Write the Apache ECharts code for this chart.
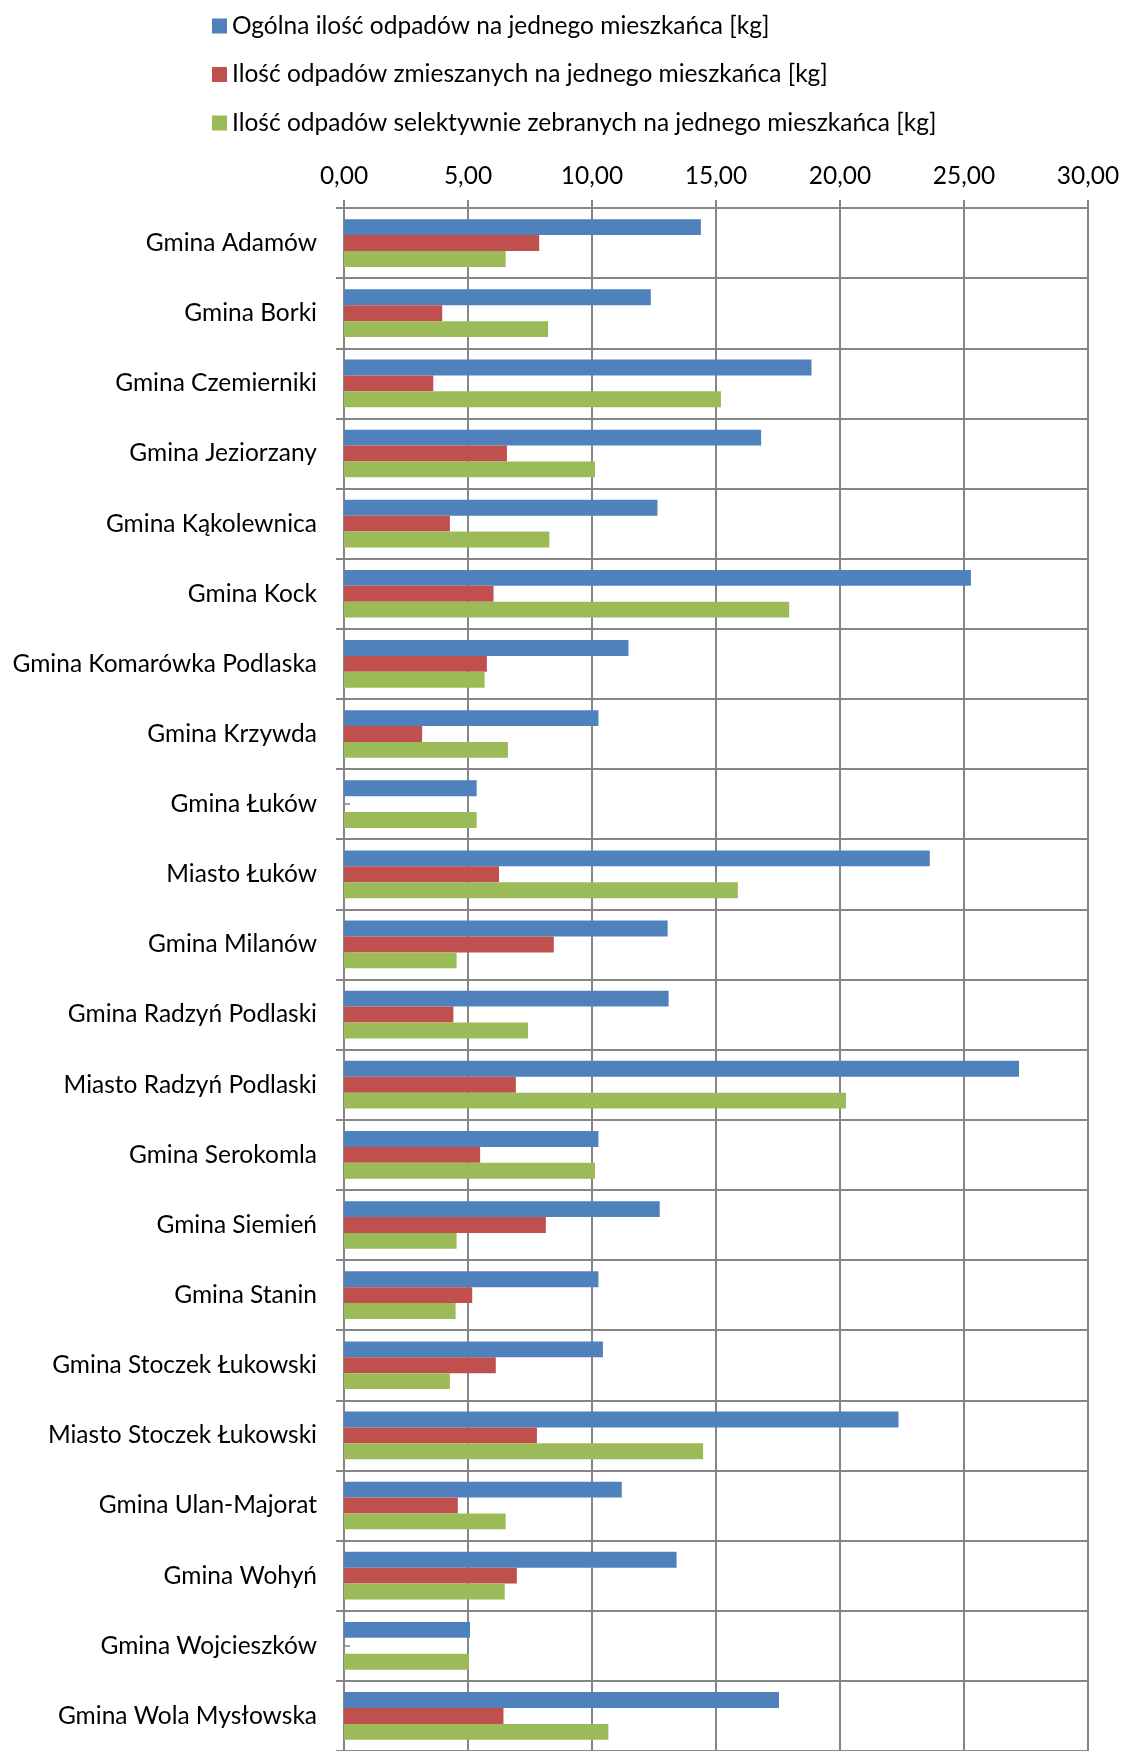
<!DOCTYPE html>
<html>
<head>
<meta charset="utf-8">
<script src="https://cdn.jsdelivr.net/npm/echarts@6/dist/echarts.min.js"></script>
<style>
    html, body { margin: 0; padding: 0; background: #fff; }
    #chart { width: 1124px; height: 1751px; }
</style>
</head>
<body>
<div id="chart"></div>
<script>
var categories = ['Gmina Adamów', 'Gmina Borki', 'Gmina Czemierniki', 'Gmina Jeziorzany', 'Gmina Kąkolewnica', 'Gmina Kock', 'Gmina Komarówka Podlaska', 'Gmina Krzywda', 'Gmina Łuków', 'Miasto Łuków', 'Gmina Milanów', 'Gmina Radzyń Podlaski', 'Miasto Radzyń Podlaski', 'Gmina Serokomla', 'Gmina Siemień', 'Gmina Stanin', 'Gmina Stoczek Łukowski', 'Miasto Stoczek Łukowski', 'Gmina Ulan-Majorat', 'Gmina Wohyń', 'Gmina Wojcieszków', 'Gmina Wola Mysłowska'];

var seriesNames = ['Ogólna ilość odpadów na jednego mieszkańca [kg]', 'Ilość odpadów zmieszanych na jednego mieszkańca [kg]', 'Ilość odpadów selektywnie zebranych na jednego mieszkańca [kg]'];

var ogolna = [14.39, 12.37, 18.85, 16.82, 12.64, 25.28, 11.47, 10.26, 5.35, 23.62, 13.05, 13.09, 27.22, 10.26, 12.73, 10.26, 10.44, 22.36, 11.20, 13.41, 5.08, 17.54];
var zmieszane = [7.87, 3.96, 3.60, 6.57, 4.27, 6.03, 5.76, 3.15, 0, 6.25, 8.46, 4.41, 6.93, 5.49, 8.14, 5.17, 6.12, 7.78, 4.59, 6.97, 0, 6.43];
var selektywne = [6.52, 8.23, 15.20, 10.12, 8.28, 17.95, 5.67, 6.61, 5.35, 15.88, 4.54, 7.42, 20.24, 10.12, 4.54, 4.50, 4.27, 14.48, 6.52, 6.48, 5.04, 10.66];

var xTicks = { min: 0, max: 30, interval: 5 };

var colors = ['#4F81BD', '#C0504D', '#9BBB59'];
var gridColor = '#868686';
var font = 'Lato, "Open Sans", sans-serif';
var fontSize = 24.5;

var myChart = echarts.init(document.getElementById('chart'));

function barSeries(i, data) {
    return {
        name: seriesNames[i],
        type: 'bar',
        data: data,
        barGap: '0%',
        barCategoryGap: '32%',
        itemStyle: { color: colors[i] },
        emphasis: { disabled: true }
    };
}

var option = {
    animation: false,
    color: colors,
    textStyle: { fontFamily: font },
    legend: {
        orient: 'vertical',
        left: 207,
        top: 7,
        itemWidth: 15,
        itemHeight: 15,
        itemGap: 20.5,
        icon: 'rect',
        selectedMode: false,
        textStyle: { fontSize: fontSize, lineHeight: 28, color: '#000', fontFamily: font },
        data: seriesNames
    },
    grid: { left: 344, top: 208, width: 744, height: 1543 },
    xAxis: {
        type: 'value',
        position: 'top',
        min: xTicks.min,
        max: xTicks.max,
        interval: xTicks.interval,
        axisLine: { show: true, lineStyle: { color: gridColor, width: 2 } },
        axisTick: { show: true, length: 8, lineStyle: { color: gridColor, width: 2 } },
        splitLine: { show: true, lineStyle: { color: gridColor, width: 2 } },
        axisLabel: {
            margin: 19,
            fontSize: fontSize,
            color: '#000',
            fontFamily: font,
            formatter: function(v) { return v.toFixed(2).replace('.', ','); }
        }
    },
    yAxis: [{
        type: 'category',
        inverse: true,
        data: categories,
        axisLine: { show: true, lineStyle: { color: gridColor, width: 2 } },
        axisTick: { show: true, length: 8, lineStyle: { color: gridColor, width: 2 } },
        splitLine: { show: true, interval: 0, lineStyle: { color: gridColor, width: 2 } },
        axisLabel: { margin: 27, fontSize: fontSize, color: '#000', fontFamily: font, interval: 0 }
    }, {
        // kreska w środku każdej kategorii
        type: 'category',
        inverse: true,
        position: 'left',
        data: categories,
        axisLine: { show: false },
        axisTick: { show: true, inside: true, alignWithLabel: true, length: 6, lineStyle: { color: gridColor, width: 1.5 } },
        axisLabel: { show: false },
        splitLine: { show: false }
    }],
    series: [
        barSeries(0, ogolna),
        barSeries(1, zmieszane),
        barSeries(2, selektywne)
    ]
};

myChart.setOption(option);
</script>
</body>
</html>
